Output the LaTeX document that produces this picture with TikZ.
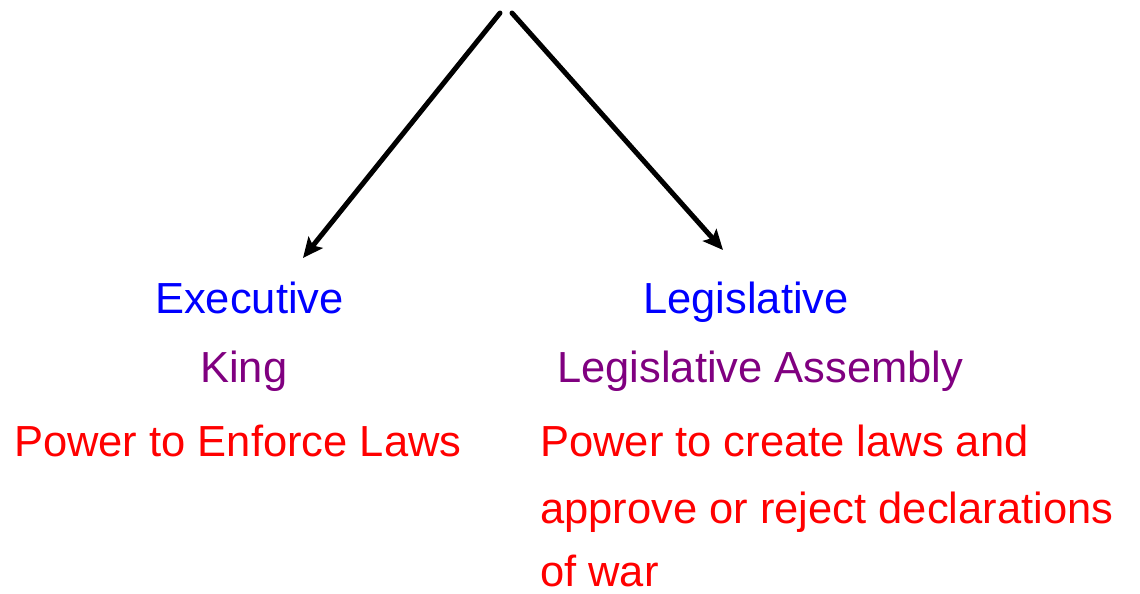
\documentclass[tikz,border=0pt]{standalone}
\usepackage{fontspec}
\setmainfont{Liberation Sans}
\usetikzlibrary{arrows.meta}
\definecolor{tblue}{RGB}{0,0,255}
\definecolor{tpurple}{RGB}{128,0,128}
\definecolor{tred}{RGB}{255,0,0}
\tikzset{
  lbl/.style={anchor=base west, inner sep=0pt, font=\fontsize{43.5}{50}\selectfont},
  branch/.style={tblue, lbl},
  body/.style={tpurple, lbl},
  power/.style={tred, lbl},
  arr/.style={line width=5pt, line cap=round, -{Stealth[length=20pt,width=18pt,inset=4pt]}}
}
\begin{document}
\begin{tikzpicture}[x=1pt,y=-1pt]
\useasboundingbox (0,0) rectangle (1140,594);
\node[branch] (exec) at (155,313) {Executive};
\node[branch] (leg) at (643,313) {Legislative};
\node[body] (king) at (200,382) {King};
\node[body] (assembly) at (557,382) {Legislative Assembly};
\node[power] (enforce) at (14,456) {Power to Enforce Laws};
\node[power] (create1) at (540,456) {Power to create laws and};
\node[power] (create2) at (540,523) {approve or reject declarations};
\node[power] (create3) at (540,586) {of war};
\coordinate (topL) at (500,13);
\coordinate (topR) at (512,13);
\coordinate (endL) at (303,258);
\coordinate (endR) at (723,250);
\draw[arr] (topL) -- (endL);
\draw[arr] (topR) -- (endR);
\end{tikzpicture}
\end{document}
